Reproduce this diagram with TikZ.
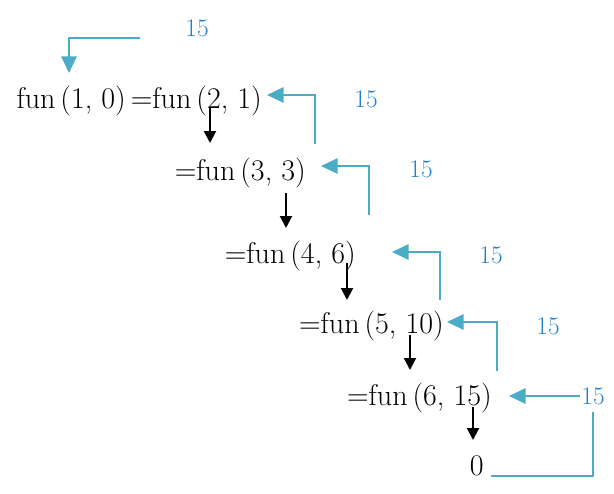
\documentclass[tikz,border=0pt]{standalone}
\usepackage{tikz}
\usetikzlibrary{arrows.meta}

\definecolor{linkblue}{RGB}{75,172,198}
\definecolor{valblue}{RGB}{35,128,205}

\begin{document}
\begin{tikzpicture}[x=0.75pt,y=0.75pt,yscale=-1,
  callnode/.style={anchor=base east,inner sep=0pt,font=\fontsize{22.5}{24}\selectfont},
  valnode/.style={inner sep=0.75pt,text=valblue,font=\fontsize{19}{21}\selectfont},
  godown/.style={line width=1.5pt,-{Triangle[length=9pt,width=9pt]}},
  goback/.style={draw=linkblue,line width=1.5pt,-{Triangle[length=12.5pt,width=11.5pt]}}]
\useasboundingbox (0,0) rectangle (614,493);

% Text Node
\node [callnode] (r1) at (262,108) {fun\,(1, 0)\,=fun\,(2, 1)};
% Text Node
\node [callnode] (r2) at (306,180) {=fun\,(3, 3)};
% Text Node
\node [callnode] (r3) at (356,263) {=fun\,(4, 6)};
% Text Node
\node [callnode] (r4) at (444,333) {=fun\,(5, 10)};
% Text Node
\node [callnode] (r5) at (492,405) {=fun\,(6, 15)};
% Text Node
\node [callnode] (r6) at (484,475) {0};

% Text Node
\node [valnode] (v0) at (197,28) {15};
\node [valnode] (v1) at (366,99) {15};
\node [valnode] (v2) at (421,169) {15};
\node [valnode] (v3) at (491,255) {15};
\node [valnode] (v4) at (548,326) {15};
\node [valnode] (v5) at (593,396) {15};

%Straight Lines
\coordinate (d1s) at (210,108); \coordinate (d1e) at (210,143);
\coordinate (d2s) at (286,193); \coordinate (d2e) at (286,228);
\coordinate (d3s) at (347,263); \coordinate (d3e) at (347,300);
\coordinate (d4s) at (410,335); \coordinate (d4e) at (410,370);
\coordinate (d5s) at (473,407); \coordinate (d5e) at (473,440);
\draw [godown] (d1s) -- (d1e);
\draw [godown] (d2s) -- (d2e);
\draw [godown] (d3s) -- (d3e);
\draw [godown] (d4s) -- (d4e);
\draw [godown] (d5s) -- (d5e);

%Straight Lines
\coordinate (u0s) at (140,38); \coordinate (u0e) at (69,73);
\coordinate (u1s) at (315,144); \coordinate (u1e) at (267,95);
\coordinate (u2s) at (369,215); \coordinate (u2e) at (321,166);
\coordinate (u3s) at (440,300); \coordinate (u3e) at (392,252);
\coordinate (u4s) at (497,371); \coordinate (u4e) at (447,322);
\coordinate (u5e) at (509,396);
\draw [goback] (u0s) -| (u0e);
\draw [goback] (u1s) |- (u1e);
\draw [goback] (u2s) |- (u2e);
\draw [goback] (u3s) |- (u3e);
\draw [goback] (u4s) |- (u4e);
\draw [goback] (v5.west) -- (u5e);

%Straight Lines
\coordinate (w1) at (593,412); \coordinate (w2) at (491,476);
\draw [draw=linkblue,line width=1.5pt] (w1) |- (w2);

\end{tikzpicture}
\end{document}
